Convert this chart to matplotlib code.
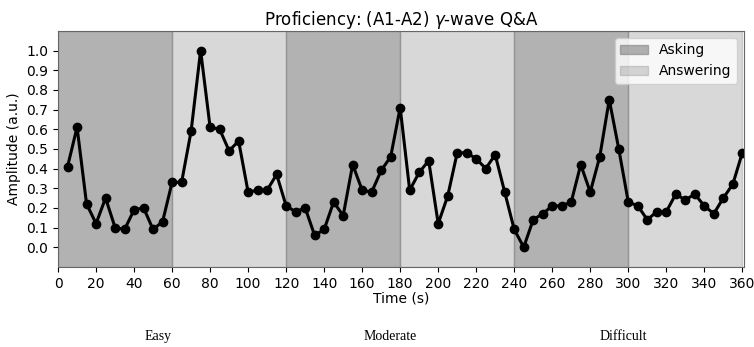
import matplotlib
matplotlib.use('Agg')
import matplotlib.pyplot as plt

# gamma-wave amplitude, one sample every 5 s
time_s = list(range(5, 365, 5))
amplitude = [0.41, 0.61, 0.22, 0.12, 0.25, 0.10, 0.09, 0.19, 0.20, 0.09,
             0.13, 0.33, 0.33, 0.59, 1.00, 0.61, 0.60, 0.49, 0.54, 0.28,
             0.29, 0.29, 0.37, 0.21, 0.18, 0.20, 0.06, 0.09, 0.23, 0.16,
             0.42, 0.29, 0.28, 0.39, 0.46, 0.71, 0.29, 0.38, 0.44, 0.12,
             0.26, 0.48, 0.48, 0.45, 0.40, 0.47, 0.28, 0.09, 0.00, 0.14,
             0.17, 0.21, 0.21, 0.23, 0.42, 0.28, 0.46, 0.75, 0.50, 0.23,
             0.21, 0.14, 0.18, 0.18, 0.27, 0.24, 0.27, 0.21, 0.17, 0.25,
             0.32, 0.48]

asking = [(0, 60), (120, 180), (240, 300)]
answering = [(60, 120), (180, 240), (300, 360)]
difficulty = ['Easy', 'Moderate', 'Difficult']
difficulty_x = [0.21, 0.517, 0.826]

fig = plt.figure(figsize=(7.54, 3.47), dpi=100)
ax = fig.add_axes([0.077, 0.231, 0.91, 0.68])

for i, (a, b) in enumerate(asking):
    ax.axvspan(a, b, color='gray', alpha=0.6, label='Asking' if i == 0 else None)
for i, (a, b) in enumerate(answering):
    ax.axvspan(a, b, color='gray', alpha=0.3, label='Answering' if i == 0 else None)

ax.plot(time_s, amplitude, color='black', linewidth=2.2, marker='o', markersize=6)

ax.set_xlim(0, 361)
ax.set_ylim(-0.1, 1.1)
ax.set_xticks(range(0, 361, 20))
ax.set_yticks([i / 10 for i in range(11)])
ax.set_title('Proficiency: (A1-A2) $\\gamma$-wave Q&A', fontsize=12, pad=4)
ax.set_xlabel('Time (s)', labelpad=1)
ax.set_ylabel('Amplitude (a.u.)')
for s in ax.spines.values():
    s.set_color('#666666')
ax.legend(loc='upper right', fontsize=10)

for name, x in zip(difficulty, difficulty_x):
    fig.text(x, 0.03, name, ha='center', va='center', family='Liberation Serif', fontsize=10)

plt.savefig('out.png')
